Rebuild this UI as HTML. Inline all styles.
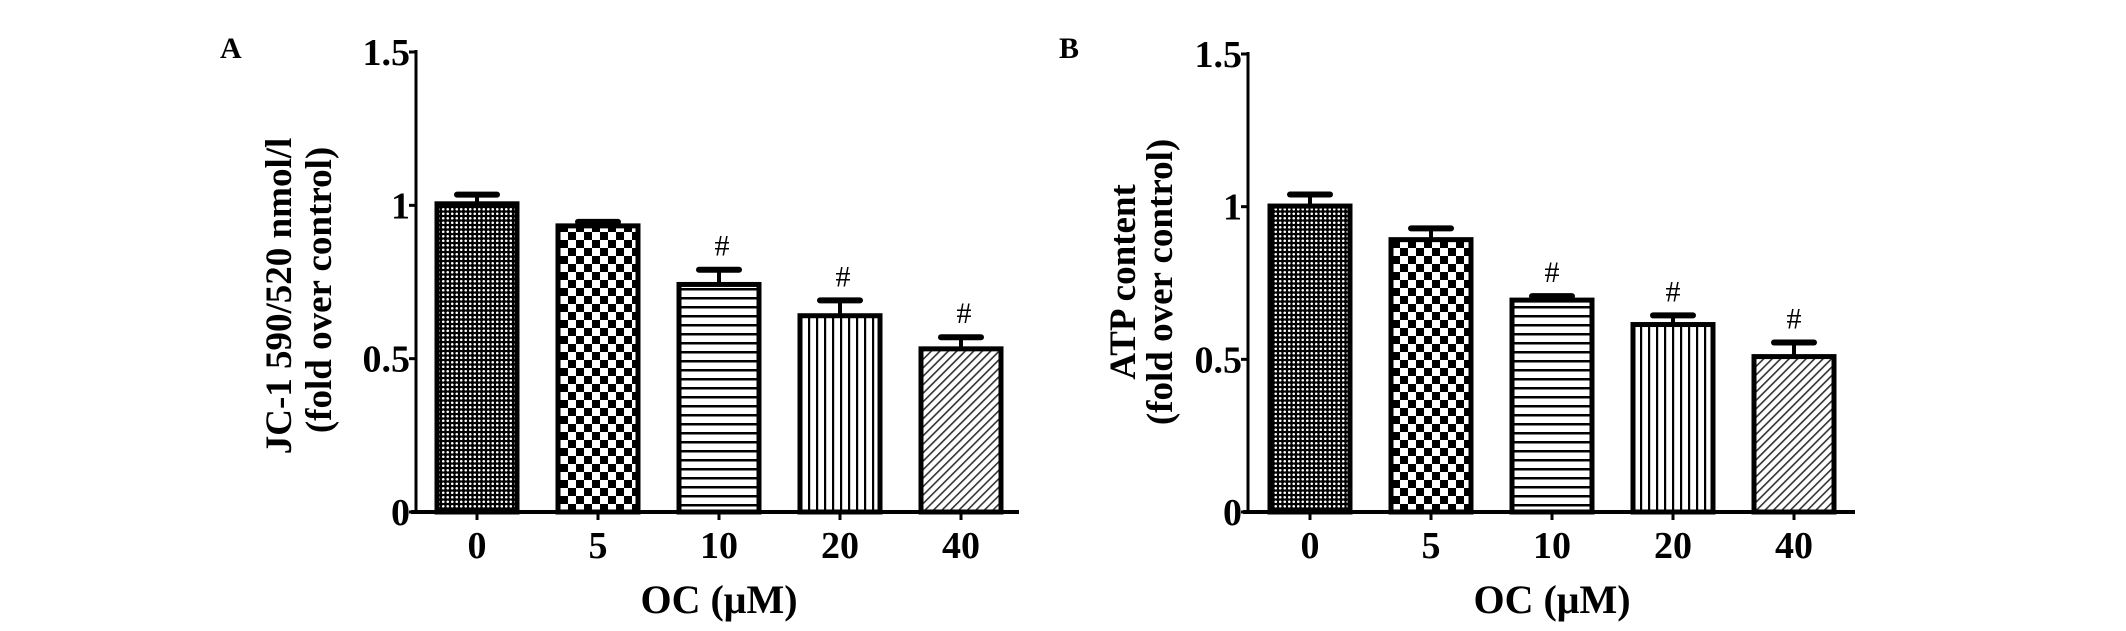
<!DOCTYPE html>
<html><head><meta charset="utf-8"><style>
html,body{margin:0;padding:0;background:#fff;}
svg{display:block;font-family:"Liberation Serif",serif;font-weight:bold;}
</style></head><body>
<svg id="chart" width="2126" height="631" viewBox="0 0 2126 631" xmlns="http://www.w3.org/2000/svg">
<defs>
<pattern id="p0" width="4.5" height="4.5" patternUnits="userSpaceOnUse"><rect width="4.5" height="4.5" fill="#000"/><circle cx="2.25" cy="2.25" r="1.3" fill="#fff"/></pattern>
<pattern id="p1" width="16" height="16" patternUnits="userSpaceOnUse"><rect width="16" height="16" fill="#fff"/><rect width="8" height="8" fill="#000"/><rect x="8" y="8" width="8" height="8" fill="#000"/></pattern>
<pattern id="p2" width="10" height="9" patternUnits="userSpaceOnUse"><rect width="10" height="9" fill="#fff"/><rect y="0" width="10" height="2.5" fill="#000"/></pattern>
<pattern id="p3" width="8" height="10" patternUnits="userSpaceOnUse"><rect width="8" height="10" fill="#fff"/><rect x="0" width="2.2" height="10" fill="#000"/></pattern>
<pattern id="p4" width="6" height="6" patternUnits="userSpaceOnUse" patternTransform="rotate(45)"><rect width="6" height="6" fill="#fff"/><rect width="1.6" height="6" fill="#333"/></pattern>
</defs>
<g id="panelA"></g>
<g id="panelB"></g>
</svg>
<script>
const categories = ["0","5","10","20","40"];
const valuesA = [1.005, 0.933, 0.742, 0.64, 0.532];
const errorsA = [0.03, 0.013, 0.048, 0.05, 0.038];
const valuesB = [1.002, 0.892, 0.694, 0.614, 0.509];
const errorsB = [0.038, 0.037, 0.013, 0.03, 0.046];
const sigA = [false, false, true, true, true];
const sigB = [false, false, true, true, true];
const yTicks = [0, 0.5, 1, 1.5];
const yTickLabels = ["0", "0.5", "1", "1.5"];

const NS = "http://www.w3.org/2000/svg";
function mk(parent, tag, attrs, text){
  const e = document.createElementNS(NS, tag);
  for (const k in attrs) e.setAttribute(k, attrs[k]);
  if (text !== undefined) e.textContent = text;
  parent.appendChild(e);
  return e;
}
function txt(g, x, y, size, s, anchor, extra){
  const a = {x: x, y: y, "font-size": size, "text-anchor": anchor || "start"};
  if (extra) for (const k in extra) a[k] = extra[k];
  return mk(g, "text", a, s);
}
function drawPanel(g, cfg, values, errors, sig){
  const y = v => cfg.y0 - (v / 1.5) * (cfg.y0 - cfg.y15);
  const xc = i => cfg.firstC + i * cfg.step;
  const L = txt(g, cfg.letterX, 58, 30, cfg.letter, "start");
  
  
  const ya = mk(g, "line", {x1: cfg.ax, y1: y(1.5) - 2, x2: cfg.ax, y2: cfg.y0, stroke: "#000", "stroke-width": 3});
  
  
  yTicks.forEach((t, i) => {
    const tk = mk(g, "line", {x1: cfg.ax - 7, y1: y(t), x2: cfg.ax, y2: y(t), stroke: "#000", "stroke-width": 3});
    
    
    const tl = txt(g, cfg.ax - 6, y(t) + 13, 38, yTickLabels[i], "end");
    
    
  });
  values.forEach((v, i) => {
    const bw = 80;
    const b = mk(g, "rect", {x: xc(i) - bw/2, y: y(v), width: bw, height: cfg.y0 - y(v), fill: "url(#p" + i + ")", stroke: "#000", "stroke-width": 5});
    
    
    const et = y(v + errors[i]);
    const el = mk(g, "line", {x1: xc(i), y1: et, x2: xc(i), y2: y(v), stroke: "#000", "stroke-width": 4});
    
    
    const ec = mk(g, "line", {x1: xc(i) - 20, y1: et, x2: xc(i) + 20, y2: et, stroke: "#000", "stroke-width": 6, "stroke-linecap": "round"});
    
    
    if (sig[i]) {
      const s = txt(g, xc(i) + cfg.sigDx, et - 14, 30, "#", "middle", {"font-weight": "normal"});
      
      
    }
    const tk = mk(g, "line", {x1: xc(i), y1: cfg.y0, x2: xc(i), y2: cfg.y0 + 8, stroke: "#000", "stroke-width": 3});
    
    
    const tl = txt(g, xc(i), 558, 38, categories[i], "middle");
    
    
  });
  const xa = mk(g, "line", {x1: cfg.ax - 5, y1: cfg.y0, x2: cfg.xEnd, y2: cfg.y0, stroke: "#000", "stroke-width": 4});
  
  
  const xt = txt(g, cfg.firstC + 2 * cfg.step, 613, 40, "OC (μM)", "middle");
  
  
  cfg.ylab.forEach((s, k) => {
    const t = mk(g, "text", {x: 0, y: 0, "font-size": 37, "text-anchor": "middle",
      transform: "translate(" + cfg.ylabX[k] + "," + cfg.ylabY[k] + ") rotate(-90)"}, s);
    
    
  });
}
drawPanel(document.getElementById("panelA"),
  {letter: "A", letterX: 220, ax: 416, y0: 512, y15: 52, firstC: 477, step: 121, xEnd: 1019, sigDx: 3,
   ylab: ["JC-1 590/520 nmol/l", "(fold over control)"], ylabX: [291, 331], ylabY: [296, 290]},
  valuesA, errorsA, sigA);
drawPanel(document.getElementById("panelB"),
  {letter: "B", letterX: 1059, ax: 1248, y0: 512, y15: 54, firstC: 1310, step: 121, xEnd: 1855, sigDx: 0,
   ylab: ["ATP content", "(fold over control)"], ylabX: [1135, 1172], ylabY: [282, 282]},
  valuesB, errorsB, sigB);
</script>
</body></html>
